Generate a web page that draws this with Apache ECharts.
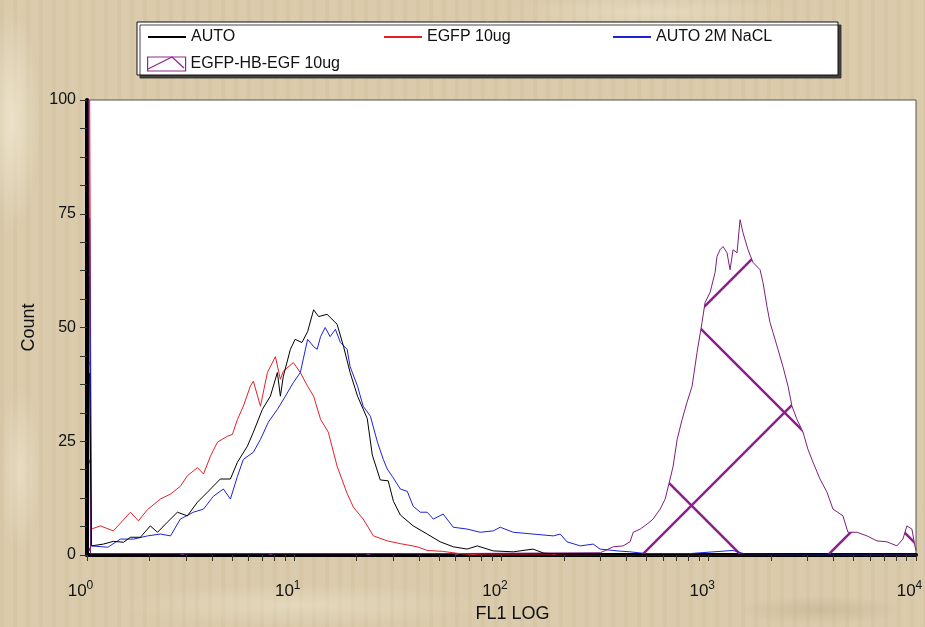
<!DOCTYPE html>
<html>
  <head>
    <meta charset="utf-8" />
    <title>FL1 LOG histogram</title>
    <script src="https://cdn.jsdelivr.net/npm/echarts@6.0.0/dist/echarts.min.js"></script>
    <style>
      html, body {
        margin: 0;
        height: 100%;
      }
      body {
        background-color: #d9c9aa;
        background-image:
          radial-gradient(ellipse 40px 160px at 12px 120px, rgba(245, 236, 214, 0.7), rgba(245, 236, 214, 0) 70%),
          radial-gradient(ellipse 30px 120px at 20px 470px, rgba(240, 230, 205, 0.6), rgba(240, 230, 205, 0) 70%),
          radial-gradient(ellipse 260px 30px at 300px 605px, rgba(236, 226, 200, 0.55), rgba(236, 226, 200, 0) 70%),
          radial-gradient(ellipse 200px 25px at 650px 12px, rgba(236, 226, 200, 0.6), rgba(236, 226, 200, 0) 70%),
          radial-gradient(ellipse 120px 20px at 820px 610px, rgba(190, 172, 140, 0.5), rgba(190, 172, 140, 0) 70%),
          repeating-linear-gradient(90deg, rgba(195, 177, 143, 0.12) 0 4px, rgba(232, 221, 196, 0.1) 4px 13px);
      }
      #chart {
        width: 925px;
        height: 627px;
      }
    </style>
  </head>
  <body>
    <div id="chart"></div>

    <script>
      // FL1 (log) vs count
      const seriesNames = ['AUTO', 'EGFP 10ug', 'AUTO 2M NaCL', 'EGFP-HB-EGF 10ug'];
      const xMajor = [1, 10, 100, 1000, 10000];
      const xLabelExp = ['0', '1', '2', '3', '4'];
      const yTicks = [0, 25, 50, 75, 100];

      const autoData = [
        [1.03, 40], [1.05, 2.0], [1.2, 2.4], [1.34, 3.0], [1.5, 2.8], [1.62, 3.9], [1.81, 3.9],
        [2.02, 6.4], [2.19, 5.0], [2.44, 7.2], [2.73, 9.4], [3.05, 8.6], [3.41, 11.6], [3.81, 13.8],
        [4.4, 16.7], [4.92, 16.7], [5.32, 20.4], [5.94, 23.9], [6.35, 27.0], [7.02, 32.0], [7.67, 34.9],
        [8.29, 40.1], [8.57, 34.9], [8.86, 39.3], [9.58, 45.2], [10.1, 47.4], [10.9, 46.7], [11.6, 49.1],
        [12.4, 53.9], [13.1, 52.4], [14.4, 52.9], [16.1, 50.7], [17.3, 45.8], [18.6, 40.1], [20.2, 34.9],
        [22.5, 30.0], [23.8, 22.0], [26.0, 16.5], [28.4, 16.3], [30.1, 11.8], [32.5, 8.8], [37.5, 6.4],
        [43.8, 4.6], [50.6, 2.9], [58.5, 1.8], [68.3, 1.3], [76.4, 2.0], [91.2, 0.9], [114, 0.7],
        [142, 1.3], [160, 0.4], [200, 0.2], [400, 0.1], [10000, 0]
      ];

      const egfpData = [
        [1.03, 100], [1.05, 5.7], [1.16, 6.4], [1.34, 5.3], [1.62, 9.4], [1.77, 7.5], [1.96, 10.0],
        [2.26, 12.3], [2.53, 13.4], [2.82, 15.1], [3.05, 17.4], [3.41, 19.2], [3.65, 17.8], [3.94, 21.7],
        [4.26, 24.8], [4.76, 26.1], [5.03, 26.5], [5.32, 29.8], [5.68, 32.7], [6.14, 37.1], [6.35, 38.2],
        [6.87, 32.7], [7.42, 40.1], [8.11, 43.6], [8.57, 38.6], [8.86, 40.4], [9.9, 42.3], [10.7, 40.1],
        [11.6, 37.1], [12.4, 34.9], [13.4, 29.8], [14.6, 27.0], [16.1, 19.5], [18.0, 13.5], [19.3, 10.5],
        [21.5, 7.9], [24.1, 4.2], [28.1, 3.1], [32.5, 2.5], [39.2, 1.8], [43.8, 1.0], [52, 0.8],
        [63, 0.3], [80, 0], [10000, 0]
      ];

      const nacData = [
        [1.03, 74], [1.05, 2.0], [1.26, 1.7], [1.45, 3.5], [1.68, 3.5], [1.96, 4.2], [2.26, 4.6],
        [2.53, 4.2], [2.82, 7.9], [3.26, 9.4], [3.65, 10.1], [4.07, 12.9], [4.55, 14.5], [4.92, 12.3],
        [5.32, 17.3], [5.68, 21.0], [6.35, 22.6], [6.87, 25.4], [7.5, 29.2], [8.29, 32.0], [9.06, 34.9],
        [9.9, 37.9], [10.7, 40.1], [11.6, 47.4], [12.4, 45.8], [12.9, 45.2], [13.4, 48.0], [14.1, 50.0],
        [14.9, 48.0], [15.8, 49.6], [16.7, 46.7], [18.0, 45.2], [18.6, 41.4], [20.2, 37.1], [21.5, 32.7],
        [23.3, 30.5], [25.2, 24.8], [26.9, 21.0], [28.1, 18.9], [29.7, 17.3], [32.5, 14.5], [35.1, 14.0],
        [37.5, 10.7], [40.6, 9.4], [43.8, 9.4], [46.9, 7.9], [52.3, 9.0], [58.5, 6.1], [68.3, 5.7],
        [78.9, 5.0], [91.2, 5.3], [98.6, 6.1], [114, 5.0], [142, 4.6], [178, 4.2], [192, 4.6],
        [207, 2.9], [240, 2.0], [277, 2.4], [299, 1.3], [361, 0.9], [417, 0.7], [500, 0.3],
        [800, 0.3], [1310, 1.0], [1500, 0.2], [10000, 0]
      ];

      const hbData = [
        [1.02, 100], [1.04, 0.3], [50, 0.3], [300, 0.5], [346, 1.8], [386, 2.0], [417, 2.9], [432, 5.0],
        [467, 5.7], [504, 6.8], [539, 7.9], [583, 10.1], [616, 12.3], [651, 16.7], [673, 19.5],
        [704, 25.4], [744, 29.8], [786, 33.6], [831, 37.1], [878, 44.5], [928, 51.1], [960, 55.5],
        [1015, 57.7], [1073, 62.1], [1096, 65.6], [1134, 67.1], [1172, 67.8], [1225, 66.4], [1267, 62.7],
        [1310, 67.1], [1369, 66.4], [1416, 73.7], [1464, 70.8], [1547, 67.1], [1635, 64.3], [1768, 62.7],
        [1827, 59.9], [1910, 54.6], [1975, 51.1], [2042, 48.9], [2158, 45.2], [2281, 41.4], [2413, 37.1],
        [2521, 32.7], [2665, 29.8], [2849, 27.0], [3012, 23.2], [3184, 20.4], [3441, 16.7], [3719, 13.8],
        [3975, 10.1], [4442, 8.6], [4694, 5.0], [5188, 5.0], [5797, 4.2], [6479, 3.1], [7239, 2.9],
        [8090, 2.0], [8649, 3.5], [9040, 6.4], [9555, 5.7], [9878, 2.0], [10000, 1.0]
      ];

      const FONT = '"Liberation Sans Narrow", "Liberation Sans", Arial, sans-serif';
      const PURPLE = '#7e1f7e';

      // wide diagonal cross-hatch, like the original fill
      function hatchTile() {
        const s = 186;
        const c = document.createElement('canvas');
        c.width = s;
        c.height = s;
        const g = c.getContext('2d');
        g.strokeStyle = '#8a1f8a';
        g.lineWidth = 2.5;
        for (let k = -1; k <= 2; k++) {
          g.beginPath();
          g.moveTo(k * s - 10, -10);
          g.lineTo(k * s + s + 10, s + 10);
          g.stroke();
          g.beginPath();
          g.moveTo(81 + k * s + 10, -10);
          g.lineTo(81 + k * s - s - 10, s + 10);
          g.stroke();
        }
        return c;
      }

      const minorTicks = [];
      xMajor.forEach((m, i) => {
        if (i === xMajor.length - 1) { minorTicks.push(m); return; }
        for (let k = 1; k <= 9; k++) minorTicks.push(m * k);
      });

      function legendAt(name, left, top, extra) {
        return Object.assign({
          data: [name],
          left: left,
          top: top,
          padding: 0,
          itemWidth: 38,
          itemHeight: 14,
          itemGap: 5,
          selectedMode: false,
          itemStyle: { opacity: 0 },
          textStyle: { fontFamily: FONT, fontSize: 16, color: '#111' }
        }, extra || {});
      }

      const chart = echarts.init(document.getElementById('chart'));
      chart.setOption({
        animation: false,
        backgroundColor: 'transparent',
        textStyle: { fontFamily: FONT },
        grid: {
          left: 87,
          right: 9,
          top: 100,
          bottom: 72,
          outerBoundsMode: 'none',
          containLabel: false,
          show: true,
          backgroundColor: '#fff',
          borderColor: '#555',
          borderWidth: 1
        },
        graphic: [
          {
            type: 'rect',
            z: 0,
            shape: { x: 137, y: 22, width: 701, height: 53 },
            style: {
              fill: '#fff',
              stroke: '#111',
              lineWidth: 1,
              shadowColor: 'rgba(50,50,50,0.9)',
              shadowOffsetX: 3,
              shadowOffsetY: 3,
              shadowBlur: 0
            }
          },
          {
            type: 'polyline',
            z: 100,
            shape: { points: [[148, 69], [172, 57], [184, 68]] },
            style: { stroke: '#8e2a8e', lineWidth: 1.3, fill: null }
          }
        ],
        legend: [
          legendAt(seriesNames[0], 147, 29),
          legendAt(seriesNames[1], 383, 29),
          legendAt(seriesNames[2], 612, 29),
          legendAt(seriesNames[3], 147, 56, {
            icon: 'rect',
            itemStyle: { color: '#fff', borderColor: '#8e2a8e', borderWidth: 1.2 }
          })
        ],
        xAxis: {
          type: 'log',
          logBase: 10,
          min: 1,
          max: 10000,
          name: 'FL1 LOG',
          nameLocation: 'middle',
          nameGap: 48,
          nameTextStyle: { fontFamily: FONT, fontSize: 18, color: '#111', padding: [0, 0, 0, 22] },
          axisLine: { lineStyle: { color: '#000', width: 4 } },
          axisTick: {
            customValues: minorTicks,
            length: 6,
            lineStyle: { color: '#333', width: 1 }
          },
          axisLabel: {
            customValues: xMajor,
            margin: 25,
            color: '#111',
            padding: [0, 13, 0, 0],
            formatter: function (v) {
              const i = xMajor.indexOf(v);
              const e = i >= 0 ? xLabelExp[i] : String(Math.round(Math.log10(v)));
              return '{b|10}{s|' + e + '}';
            },
            rich: {
              b: { fontFamily: FONT, fontSize: 17, color: '#111' },
              s: { fontFamily: FONT, fontSize: 12, color: '#111', padding: [0, 0, 11, 0] }
            }
          },
          splitLine: { show: false }
        },
        yAxis: {
          type: 'value',
          min: yTicks[0],
          max: yTicks[yTicks.length - 1],
          interval: 25,
          name: 'Count',
          nameLocation: 'middle',
          nameGap: 48,
          nameRotate: 90,
          nameTextStyle: { fontFamily: FONT, fontSize: 18, color: '#111' },
          axisLine: { show: true, lineStyle: { color: '#000', width: 4 } },
          axisTick: { show: true, length: 7, lineStyle: { color: '#333' } },
          minorTick: { show: true, splitNumber: 4, length: 7, lineStyle: { color: '#333' } },
          axisLabel: { fontFamily: FONT, fontSize: 16, color: '#111', margin: 11 },
          splitLine: { show: false }
        },
        series: [
          {
            name: seriesNames[3],
            type: 'line',
            data: hbData,
            symbol: 'none',
            lineStyle: { color: PURPLE, width: 1 },
            itemStyle: { color: PURPLE },
            areaStyle: { color: { image: hatchTile(), repeat: 'repeat' }, opacity: 1 },
            z: 1
          },
          {
            name: seriesNames[0],
            type: 'line',
            data: autoData,
            symbol: 'none',
            lineStyle: { color: '#000', width: 1 },
            itemStyle: { color: '#000' },
            z: 3
          },
          {
            name: seriesNames[1],
            type: 'line',
            data: egfpData,
            symbol: 'none',
            lineStyle: { color: '#e4202a', width: 1 },
            itemStyle: { color: '#e4202a' },
            z: 2
          },
          {
            name: seriesNames[2],
            type: 'line',
            data: nacData,
            symbol: 'none',
            lineStyle: { color: '#1c22d6', width: 1 },
            itemStyle: { color: '#1c22d6' },
            z: 2
          }
        ]
      });
    </script>
  </body>
</html>
